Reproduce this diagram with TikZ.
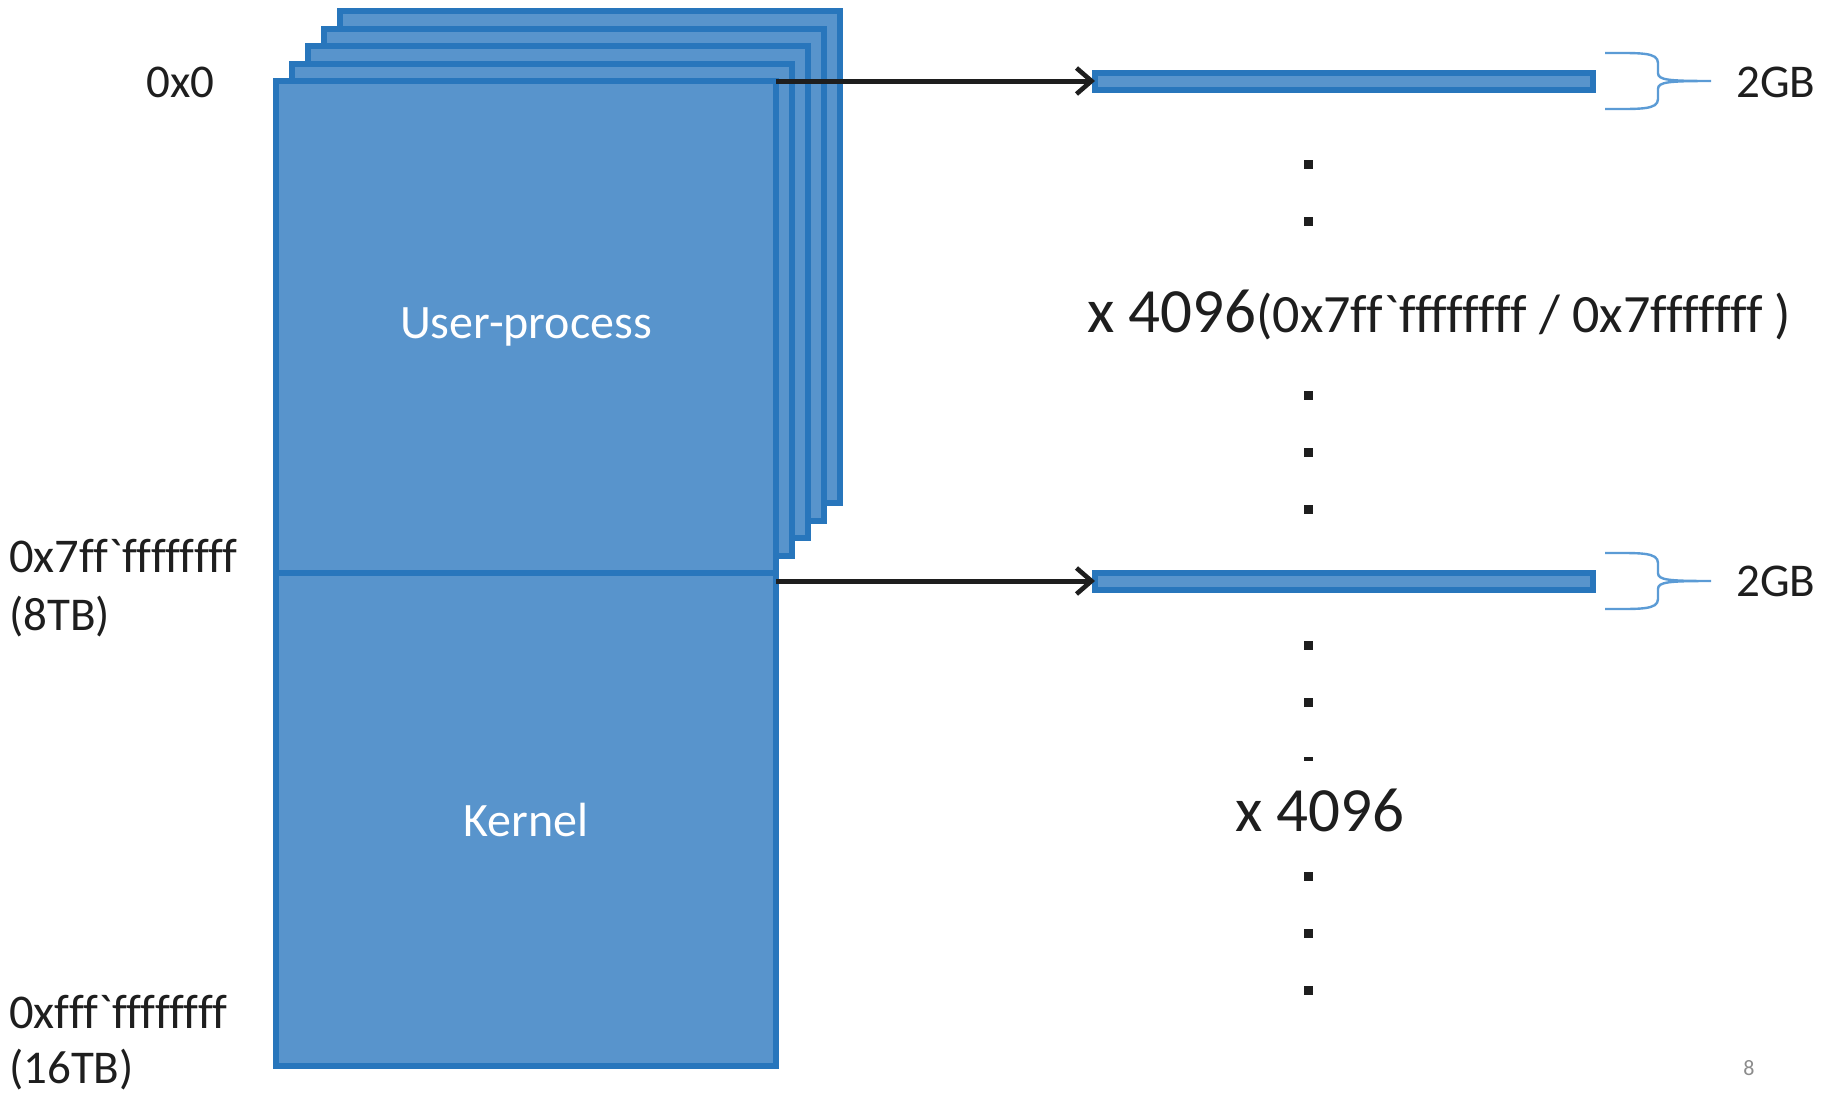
\documentclass[tikz,border=0pt]{standalone}
\usepackage{fontspec}
\setmainfont{Carlito}[Ligatures={TeXOff,NoCommon}]
\usetikzlibrary{arrows.meta}
\definecolor{boxfill}{HTML}{5894CC}
\definecolor{boxline}{HTML}{2876BC}
\definecolor{bracecol}{HTML}{5B9BD5}
\definecolor{inkcol}{HTML}{1E1E1E}
\tikzset{
  block/.style={draw=boxline, fill=boxfill, line width=6pt, anchor=north west,
    minimum width=500pt, minimum height=492pt, inner sep=0pt, outer sep=0pt,
    text=white, font=\fontsize{48}{56}\selectfont},
  bar/.style={draw=boxline, fill=boxfill, line width=6pt, anchor=west,
    minimum width=498pt, minimum height=17pt, inner sep=0pt, outer sep=0pt},
  mapto/.style={draw=inkcol, line width=5pt, -{Straight Barb[length=15pt,width=26pt,line width=4.6pt]}},
  brace/.style={draw=bracecol, line width=2.4pt},
  lbl/.style={text=inkcol, inner sep=0pt, font=\fontsize{47}{56}\selectfont},
  dotmark/.style={fill=inkcol, draw=none, inner sep=0pt, minimum width=9pt, minimum height=9pt},
}
\begin{document}
\begin{tikzpicture}[x=1pt,y=-1pt]
\useasboundingbox (0,0) rectangle (1831,1095);

% stacked user-space copies behind the front address space
\foreach \k in {4,3,2,1}{
  \node[block] (copy\k) at ({276+16*\k},{81-17.5*\k}) {};
}
% front address space: user half and kernel half
\node[block] (user) at (276,81) {User-process};
\node[block, minimum height=493pt] (kernel) at (276,573) {Kernel};

% address labels on the left
\node[lbl, anchor=base west] (a0) at (146,97) {0x0};
\node[lbl, anchor=base west, font=\fontsize{48.5}{56}\selectfont] (a1) at (9,572) {0x7ff`ffffffff};
\node[lbl, anchor=base west] (a1s) at (9,630) {(8TB)};
\node[lbl, anchor=base west, font=\fontsize{48.5}{56}\selectfont] (a2) at (9,1028) {0xfff`ffffffff};
\node[lbl, anchor=base west] (a2s) at (9,1083) {(16TB)};

% 2GB slices
\node[bar] (bar1) at (1095,81) {};
\node[bar] (bar2) at (1095,581) {};
\coordinate (kout) at (776,581);
\draw[mapto] (user.north east) -- (bar1.west);
\draw[mapto] (kout) -- (bar2.west);

% braces and sizes
\foreach \dy in {0,500}{
  \begin{scope}[yshift=-\dy pt]
    \draw[brace] (1605,53) .. controls (1640,53) and (1658,52) .. (1658,63)
      -- (1658,73) .. controls (1658,80) and (1668,81) .. (1711,81)
      .. controls (1668,81) and (1658,82) .. (1658,89)
      -- (1658,99) .. controls (1658,110) and (1640,109) .. (1605,109);
  \end{scope}
}
\node[lbl, anchor=base west] (gb1) at (1736,97) {2GB};
\node[lbl, anchor=base west] (gb2) at (1736,596) {2GB};

% repetition marks
\foreach \y [count=\i] in {164,221,395,452,509,645,702,876,933,990}{
  \node[dotmark] (d\i) at (1308,\y) {};
}
\node[dotmark, minimum height=4pt] (dash) at (1308,759) {};

\node[lbl, anchor=base west] (rep1) at (1087,332)
  {{\fontsize{63}{70}\selectfont x 4096}{\fontsize{54}{60}\selectfont(0x7ff`ffffffff / 0x7fffffff )}};
\node[lbl, anchor=base west, font=\fontsize{63}{70}\selectfont] (rep2) at (1235,831) {x 4096};

% slide number
\node[lbl, text=black!45, font=\fontsize{22}{26}\selectfont] (pg) at (1749,1068) {8};
\end{tikzpicture}
\end{document}
